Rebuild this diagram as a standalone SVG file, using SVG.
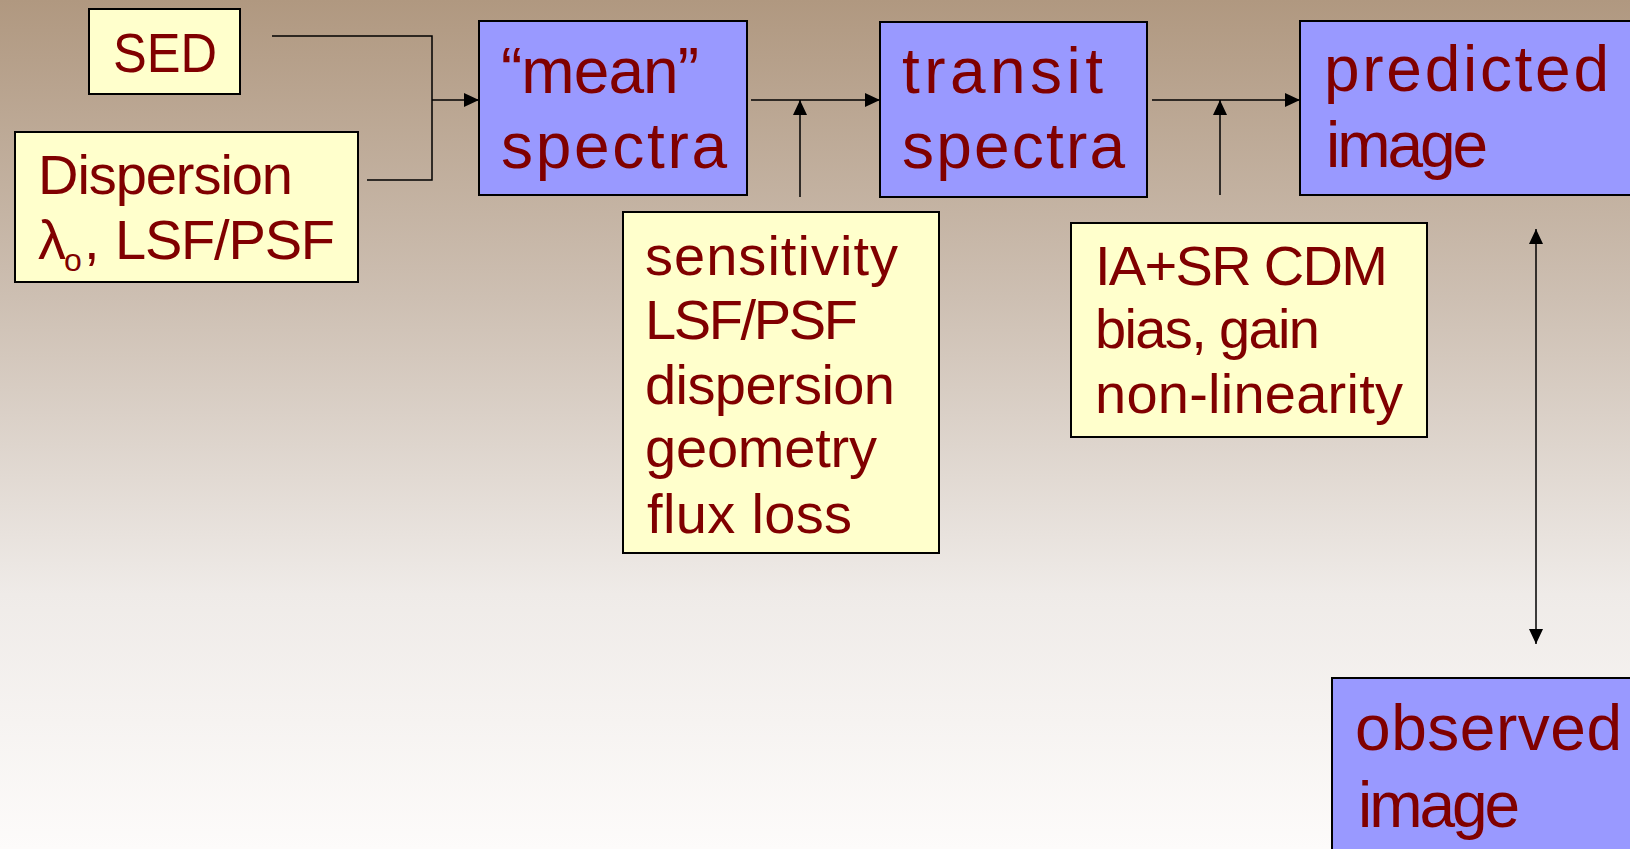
<svg xmlns="http://www.w3.org/2000/svg" width="1630" height="849" viewBox="0 0 1630 849">
<defs>
<linearGradient id="bg" x1="0" y1="0" x2="0" y2="1">
<stop offset="0" stop-color="#B09880"/>
<stop offset="0.35" stop-color="#CDBFB2"/>
<stop offset="0.7" stop-color="#EFEBE8"/>
<stop offset="1" stop-color="#FDFBFA"/>
</linearGradient>
<marker id="ah" markerUnits="userSpaceOnUse" markerWidth="16" markerHeight="14" refX="15" refY="7" orient="auto-start-reverse">
<path d="M0,0 L15,7 L0,14 Z" fill="#000"/>
</marker>
<style>
.y{fill:#FFFFCC;stroke:#000;stroke-width:2}
.b{fill:#9999FF;stroke:#000;stroke-width:2}
.t{font-family:"Comic Sans MS","Liberation Sans",sans-serif;fill:#800000}
.s{font-size:56px}
.L{font-size:64px}
.c{fill:none;stroke:#000;stroke-width:1.5}
</style>
</defs>
<rect x="0" y="0" width="1630" height="849" fill="url(#bg)"/>

<g id="connectors">
<path class="c" d="M272,36 H432 V180 H367"/>
<path class="c" d="M432,100 H479" marker-end="url(#ah)"/>
<path class="c" d="M751,100 H880" marker-end="url(#ah)"/>
<path class="c" d="M800,197 V100" marker-end="url(#ah)"/>
<path class="c" d="M1152,100 H1300" marker-end="url(#ah)"/>
<path class="c" d="M1220,195 V100" marker-end="url(#ah)"/>
<path class="c" d="M1536,229 V644" marker-start="url(#ah)" marker-end="url(#ah)"/>
</g>

<g id="sed">
<rect class="y" x="89" y="9" width="151" height="85"/>
<text class="t" x="113" y="72" font-size="56" textLength="104" lengthAdjust="spacingAndGlyphs">SED</text>
</g>

<g id="dispersion">
<rect class="y" x="15" y="132" width="343" height="150"/>
<text class="t s" x="38" y="194" textLength="255">Dispersion</text>
<text class="t s" x="38" y="259">λ</text>
<text class="t" x="64" y="271" font-size="32">o</text>
<text class="t s" x="84" y="259">,</text>
<text class="t s" x="115" y="259" textLength="220">LSF/PSF</text>
</g>

<g id="mean">
<rect class="b" x="479" y="21" width="268" height="174"/>
<text class="t L" x="501" y="93" textLength="198">“mean”</text>
<text class="t L" x="501" y="168" textLength="226">spectra</text>
</g>

<g id="transit">
<rect class="b" x="880" y="22" width="267" height="175"/>
<text class="t L" x="902" y="93" textLength="201">transit</text>
<text class="t L" x="902" y="168" textLength="223">spectra</text>
</g>

<g id="predicted">
<rect class="b" x="1300" y="21" width="340" height="174"/>
<text class="t L" x="1324" y="91" textLength="285">predicted</text>
<text class="t L" x="1326" y="167" textLength="162">image</text>
</g>

<g id="sensitivity">
<rect class="y" x="623" y="212" width="316" height="341"/>
<text class="t s" x="645" y="275" textLength="253">sensitivity</text>
<text class="t s" x="645" y="339" textLength="213">LSF/PSF</text>
<text class="t s" x="645" y="404" textLength="250">dispersion</text>
<text class="t s" x="645" y="467" textLength="232">geometry</text>
<text class="t s" x="647" y="533" textLength="205">flux loss</text>
</g>

<g id="detector">
<rect class="y" x="1071" y="223" width="356" height="214"/>
<text class="t s" x="1095" y="285" textLength="293">IA+SR CDM</text>
<text class="t s" x="1095" y="348" textLength="225">bias, gain</text>
<text class="t s" x="1095" y="413" textLength="308">non-linearity</text>
</g>

<g id="observed">
<rect class="b" x="1332" y="678" width="310" height="190"/>
<text class="t L" x="1355" y="750" textLength="267">observed</text>
<text class="t L" x="1358" y="827" textLength="162">image</text>
</g>
</svg>
